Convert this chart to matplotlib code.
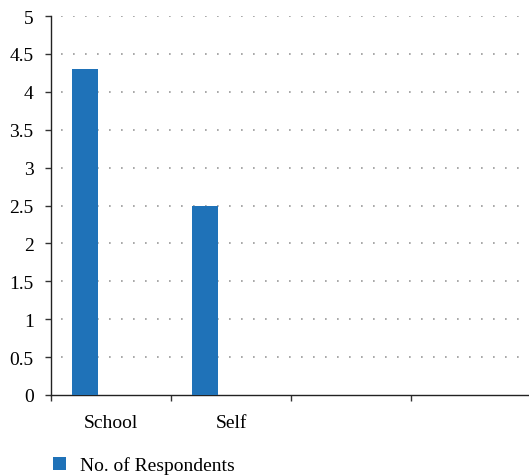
import matplotlib
matplotlib.use("Agg")
import matplotlib.pyplot as plt
import numpy as np

categories = ["School", "Self", "", ""]
respondents = [4.3, 2.5, 0, 0]
series_name = "No. of Respondents"
y_ticks = [0, 0.5, 1, 1.5, 2, 2.5, 3, 3.5, 4, 4.5, 5]
y_tick_labels = ["0", "0.5", "1", "1.5", "2", "2.5", "3", "3.5", "4", "4.5", "5"]

bar_color = "#1F72B8"
plt.rcParams["font.family"] = ["Liberation Serif", "DejaVu Serif"]

fig = plt.figure(figsize=(5.29, 4.77), dpi=100)
ax = fig.add_axes([51 / 529, 1 - 396 / 477, 1 - 51 / 529 + 0.004, (396 - 17) / 477])

x = np.arange(len(categories))
width = 0.217
ax.bar(x - width, respondents, width=width, color=bar_color, label=series_name, zorder=3)

ax.set_xlim(-0.5, len(categories) - 0.5)
ax.set_ylim(0, 5)
ax.set_yticks(y_ticks)
ax.set_yticklabels(y_tick_labels)

# category boundaries carry the tick marks, centres carry the labels
ax.set_xticks(np.arange(len(categories) + 1) - 0.5)
ax.set_xticklabels([])
ax.set_xticks(x, minor=True)
ax.set_xticklabels(categories, minor=True)
ax.tick_params(axis="x", which="major", length=4.5, width=1, color="#333333")
ax.tick_params(axis="x", which="minor", length=0, pad=14, labelsize=14)
ax.tick_params(axis="y", length=4.5, width=1, color="#333333", labelsize=14, pad=8)

for v in y_ticks[1:]:
    ax.axhline(v, color="#999999", linestyle=(1.2, (1, 6.2)), linewidth=1.2, zorder=1)

for s in ["top", "right"]:
    ax.spines[s].set_visible(False)
for s in ["left", "bottom"]:
    ax.spines[s].set_color("#222222")
    ax.spines[s].set_linewidth(1)

leg = fig.legend(loc="center left", bbox_to_anchor=(0.068, 1 - 466 / 477), frameon=False,
                 fontsize=14, handlelength=0.65, handleheight=0.65, handletextpad=0.7)

fig.savefig("out.png", dpi=100)
